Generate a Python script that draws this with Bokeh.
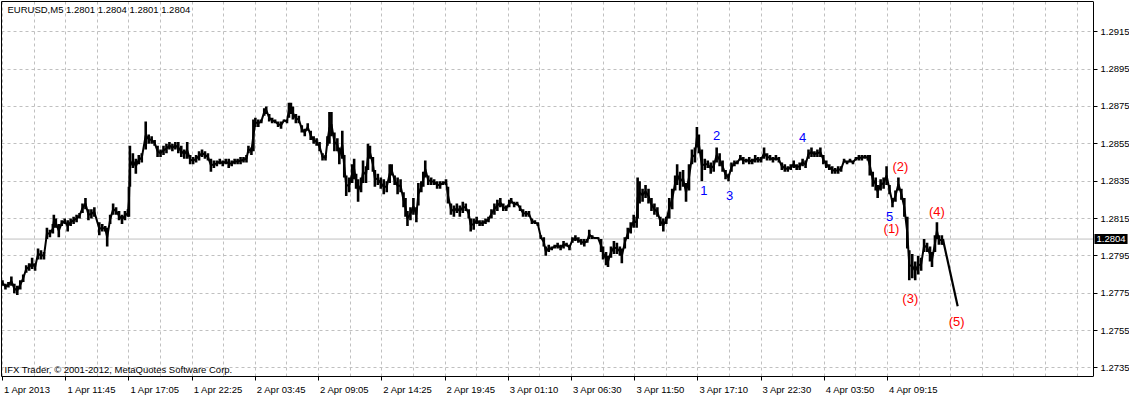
from bokeh.plotting import figure
from bokeh.models import FixedTicker, Range1d, Label, PrintfTickFormatter, LinearAxis, Grid
from bokeh.core.properties import value
from bokeh.embed import file_html
from bokeh.resources import INLINE

# ---------------- data ----------------
symbol = "EURUSD,M5"
last_bar = [1.2801, 1.2804, 1.2801, 1.2804]  # open, high, low, close
copyright_text = "IFX Trader, \u00a9 2001-2012, MetaQuotes Software Corp."

time_labels = ["1 Apr 2013", "1 Apr 11:45", "1 Apr 17:05", "1 Apr 22:25", "2 Apr 03:45",
               "2 Apr 09:05", "2 Apr 14:25", "2 Apr 19:45", "3 Apr 01:10", "3 Apr 06:30",
               "3 Apr 11:50", "3 Apr 17:10", "3 Apr 22:30", "4 Apr 03:50", "4 Apr 09:15"]
time_label_bars = [0, 64, 128, 192, 256, 320, 384, 448, 512, 576, 640, 704, 768, 832, 896]

price_ticks = [1.2735, 1.2755, 1.2775, 1.2795, 1.2815, 1.2835, 1.2855, 1.2875, 1.2895, 1.2915]

# sampled M5 bars: bar index, high, low
bar_idx = [0, 3, 6, 9, 12, 15, 18, 21, 24, 27, 30, 33, 36, 39, 42, 45, 48, 51, 52, 54,
           57, 60, 63, 66, 69, 72, 75, 78, 81, 84, 87, 90, 93, 98, 101, 104, 106, 109, 112, 115,
           118, 121, 124, 127, 128, 129, 132, 135, 138, 141, 145, 148, 151, 154, 157, 160, 163, 166, 169, 172,
           175, 178, 181, 184, 187, 190, 193, 196, 199, 202, 205, 208, 211, 214, 217, 220, 223, 226, 229, 232,
           235, 238, 241, 244, 247, 249, 252, 254, 256, 259, 262, 265, 267, 270, 273, 276, 279, 282, 285, 288,
           290, 292, 294, 297, 300, 303, 306, 309, 312, 315, 318, 321, 324, 327, 329, 331, 333, 336, 339, 341,
           344, 346, 348, 351, 354, 356, 358, 360, 363, 365, 368, 370, 372, 375, 377, 380, 383, 386, 389, 392,
           394, 397, 400, 403, 406, 408, 410, 413, 416, 419, 421, 424, 426, 428, 431, 434, 437, 440, 443, 446,
           449, 451, 454, 457, 460, 463, 466, 469, 472, 474, 477, 480, 483, 486, 489, 492, 495, 498, 501, 504,
           507, 510, 513, 515, 518, 521, 524, 527, 530, 533, 536, 539, 542, 545, 548, 550, 553, 556, 559, 562,
           565, 568, 571, 574, 577, 580, 583, 586, 589, 592, 594, 597, 600, 603, 606, 608, 611, 613, 616, 619,
           622, 625, 627, 630, 633, 636, 639, 642, 643, 645, 648, 651, 654, 657, 660, 663, 666, 669, 672, 675,
           678, 681, 683, 686, 689, 692, 695, 698, 701, 703, 705, 708, 711, 714, 717, 720, 723, 726, 729, 732,
           735, 738, 741, 744, 747, 750, 753, 756, 759, 762, 765, 768, 771, 774, 777, 780, 783, 786, 789, 792,
           795, 798, 801, 804, 807, 810, 813, 816, 819, 822, 825, 828, 831, 834, 837, 840, 843, 846, 849, 852,
           855, 858, 861, 864, 867, 870, 873, 876, 878, 881, 884, 886, 889, 892, 895, 898, 901, 904, 907, 910,
           913, 916, 918, 921, 924, 927, 930, 933, 936, 939, 941, 944, 946, 948, 951, 952]
bar_high = [1.2782, 1.2780, 1.2781, 1.2784, 1.2780, 1.2779, 1.2782, 1.2785, 1.2790, 1.2791, 1.2794, 1.2791, 1.2799, 1.2798, 1.2797, 1.2810, 1.2809, 1.2812, 1.2817, 1.2815,
            1.2812, 1.2814, 1.2815, 1.2814, 1.2815, 1.2816, 1.2817, 1.2818, 1.2823, 1.2826, 1.2820, 1.2820, 1.2821, 1.2813, 1.2812, 1.2811, 1.2810, 1.2817, 1.2823, 1.2821,
            1.2819, 1.2817, 1.2819, 1.2820, 1.2832, 1.2854, 1.2850, 1.2847, 1.2849, 1.2850, 1.2867, 1.2860, 1.2859, 1.2857, 1.2854, 1.2852, 1.2854, 1.2855, 1.2856, 1.2855,
            1.2856, 1.2856, 1.2854, 1.2852, 1.2856, 1.2849, 1.2848, 1.2849, 1.2851, 1.2852, 1.2851, 1.2850, 1.2847, 1.2846, 1.2846, 1.2847, 1.2846, 1.2847, 1.2847, 1.2846,
            1.2847, 1.2847, 1.2848, 1.2848, 1.2849, 1.2854, 1.2853, 1.2868, 1.2869, 1.2868, 1.2868, 1.2874, 1.2875, 1.2871, 1.2869, 1.2868, 1.2867, 1.2867, 1.2868, 1.2868,
            1.2877, 1.2877, 1.2875, 1.2871, 1.2870, 1.2865, 1.2863, 1.2866, 1.2862, 1.2859, 1.2858, 1.2856, 1.2850, 1.2849, 1.2859, 1.2872, 1.2872, 1.2861, 1.2858, 1.2853,
            1.2862, 1.2849, 1.2838, 1.2837, 1.2844, 1.2847, 1.2839, 1.2836, 1.2837, 1.2846, 1.2843, 1.2855, 1.2854, 1.2848, 1.2841, 1.2839, 1.2837, 1.2836, 1.2835, 1.2844,
            1.2844, 1.2838, 1.2837, 1.2836, 1.2829, 1.2826, 1.2819, 1.2821, 1.2826, 1.2821, 1.2834, 1.2835, 1.2840, 1.2846, 1.2838, 1.2837, 1.2836, 1.2835, 1.2835, 1.2835,
            1.2836, 1.2832, 1.2823, 1.2822, 1.2823, 1.2822, 1.2824, 1.2823, 1.2820, 1.2815, 1.2815, 1.2816, 1.2814, 1.2814, 1.2815, 1.2816, 1.2820, 1.2823, 1.2825, 1.2826,
            1.2823, 1.2822, 1.2825, 1.2826, 1.2824, 1.2824, 1.2822, 1.2820, 1.2819, 1.2819, 1.2815, 1.2814, 1.2813, 1.2806, 1.2805, 1.2800, 1.2801, 1.2800, 1.2801, 1.2802,
            1.2801, 1.2803, 1.2802, 1.2801, 1.2805, 1.2806, 1.2805, 1.2804, 1.2804, 1.2804, 1.2809, 1.2806, 1.2805, 1.2805, 1.2804, 1.2800, 1.2797, 1.2795, 1.2800, 1.2803,
            1.2802, 1.2800, 1.2799, 1.2805, 1.2810, 1.2813, 1.2817, 1.2816, 1.2837, 1.2835, 1.2831, 1.2833, 1.2831, 1.2826, 1.2823, 1.2821, 1.2816, 1.2815, 1.2816, 1.2826,
            1.2831, 1.2838, 1.2844, 1.2840, 1.2841, 1.2834, 1.2844, 1.2852, 1.2853, 1.2864, 1.2860, 1.2852, 1.2847, 1.2846, 1.2845, 1.2846, 1.2853, 1.2850, 1.2846, 1.2841,
            1.2839, 1.2845, 1.2846, 1.2846, 1.2849, 1.2848, 1.2847, 1.2848, 1.2847, 1.2849, 1.2848, 1.2848, 1.2853, 1.2850, 1.2849, 1.2848, 1.2849, 1.2848, 1.2845, 1.2844,
            1.2843, 1.2844, 1.2846, 1.2844, 1.2845, 1.2847, 1.2846, 1.2852, 1.2853, 1.2851, 1.2852, 1.2853, 1.2849, 1.2846, 1.2844, 1.2843, 1.2842, 1.2843, 1.2843, 1.2847,
            1.2846, 1.2847, 1.2846, 1.2848, 1.2849, 1.2849, 1.2849, 1.2849, 1.2849, 1.2840, 1.2837, 1.2833, 1.2836, 1.2837, 1.2843, 1.2833, 1.2826, 1.2830, 1.2837, 1.2831,
            1.2826, 1.2816, 1.2798, 1.2796, 1.2792, 1.2795, 1.2794, 1.2804, 1.2802, 1.2800, 1.2797, 1.2806, 1.2813, 1.2806, 1.2806, 1.2804]
bar_low = [1.2779, 1.2777, 1.2778, 1.2779, 1.2775, 1.2774, 1.2777, 1.2781, 1.2786, 1.2787, 1.2788, 1.2787, 1.2793, 1.2793, 1.2793, 1.2804, 1.2805, 1.2807, 1.2810, 1.2810,
           1.2805, 1.2811, 1.2812, 1.2808, 1.2811, 1.2812, 1.2813, 1.2815, 1.2818, 1.2820, 1.2814, 1.2815, 1.2816, 1.2806, 1.2808, 1.2808, 1.2800, 1.2812, 1.2817, 1.2817,
           1.2814, 1.2812, 1.2814, 1.2816, 1.2816, 1.2832, 1.2842, 1.2839, 1.2844, 1.2845, 1.2852, 1.2855, 1.2855, 1.2854, 1.2848, 1.2848, 1.2849, 1.2850, 1.2852, 1.2851,
           1.2852, 1.2850, 1.2848, 1.2847, 1.2847, 1.2844, 1.2844, 1.2845, 1.2846, 1.2848, 1.2847, 1.2846, 1.2840, 1.2842, 1.2843, 1.2844, 1.2843, 1.2844, 1.2842, 1.2843,
           1.2844, 1.2844, 1.2844, 1.2845, 1.2845, 1.2850, 1.2849, 1.2851, 1.2864, 1.2864, 1.2866, 1.2870, 1.2871, 1.2867, 1.2866, 1.2866, 1.2864, 1.2863, 1.2867, 1.2866,
           1.2869, 1.2871, 1.2868, 1.2866, 1.2866, 1.2861, 1.2859, 1.2862, 1.2857, 1.2855, 1.2854, 1.2851, 1.2846, 1.2846, 1.2854, 1.2855, 1.2859, 1.2851, 1.2851, 1.2844,
           1.2847, 1.2837, 1.2827, 1.2829, 1.2834, 1.2836, 1.2831, 1.2824, 1.2829, 1.2834, 1.2834, 1.2841, 1.2847, 1.2840, 1.2832, 1.2833, 1.2831, 1.2828, 1.2829, 1.2834,
           1.2838, 1.2833, 1.2828, 1.2829, 1.2821, 1.2816, 1.2811, 1.2814, 1.2817, 1.2813, 1.2822, 1.2829, 1.2832, 1.2837, 1.2833, 1.2833, 1.2833, 1.2831, 1.2831, 1.2833,
           1.2833, 1.2823, 1.2817, 1.2816, 1.2818, 1.2816, 1.2818, 1.2819, 1.2815, 1.2808, 1.2809, 1.2812, 1.2811, 1.2811, 1.2812, 1.2813, 1.2815, 1.2817, 1.2819, 1.2821,
           1.2819, 1.2819, 1.2821, 1.2823, 1.2821, 1.2822, 1.2819, 1.2816, 1.2816, 1.2816, 1.2812, 1.2812, 1.2811, 1.2804, 1.2800, 1.2795, 1.2797, 1.2798, 1.2799, 1.2799,
           1.2798, 1.2799, 1.2800, 1.2798, 1.2802, 1.2803, 1.2802, 1.2801, 1.2800, 1.2802, 1.2804, 1.2804, 1.2804, 1.2804, 1.2797, 1.2793, 1.2790, 1.2789, 1.2794, 1.2796,
           1.2796, 1.2795, 1.2791, 1.2799, 1.2804, 1.2807, 1.2810, 1.2810, 1.2815, 1.2823, 1.2824, 1.2826, 1.2823, 1.2819, 1.2817, 1.2816, 1.2811, 1.2808, 1.2812, 1.2815,
           1.2820, 1.2830, 1.2833, 1.2830, 1.2832, 1.2824, 1.2830, 1.2844, 1.2845, 1.2853, 1.2850, 1.2835, 1.2841, 1.2842, 1.2839, 1.2840, 1.2845, 1.2843, 1.2840, 1.2836,
           1.2835, 1.2840, 1.2843, 1.2844, 1.2846, 1.2844, 1.2845, 1.2844, 1.2844, 1.2845, 1.2845, 1.2845, 1.2847, 1.2846, 1.2846, 1.2845, 1.2846, 1.2845, 1.2841, 1.2840,
           1.2840, 1.2841, 1.2842, 1.2841, 1.2841, 1.2843, 1.2842, 1.2847, 1.2848, 1.2848, 1.2848, 1.2848, 1.2844, 1.2842, 1.2841, 1.2839, 1.2839, 1.2839, 1.2840, 1.2845,
           1.2844, 1.2845, 1.2844, 1.2846, 1.2846, 1.2846, 1.2847, 1.2846, 1.2838, 1.2832, 1.2830, 1.2826, 1.2830, 1.2831, 1.2833, 1.2828, 1.2821, 1.2824, 1.2830, 1.2825,
           1.2816, 1.2799, 1.2782, 1.2783, 1.2782, 1.2785, 1.2787, 1.2797, 1.2797, 1.2792, 1.2789, 1.2797, 1.2804, 1.2801, 1.2801, 1.2801]

# hand-drawn wave (5) projection
forecast_bar = [952, 967]
forecast_price = [1.2804, 1.2768]

# Elliott wave labels
minor_wave_text = ["1", "2", "3", "4", "5"]
minor_wave_bar = [710, 723, 736, 810, 898]
minor_wave_price = [1.28298, 1.28595, 1.28272, 1.28583, 1.28160]
major_wave_text = ["(1)", "(2)", "(3)", "(4)", "(5)"]
major_wave_bar = [900, 909, 919, 946, 966]
major_wave_price = [1.28094, 1.28430, 1.27723, 1.28187, 1.27601]

# ---------------- layout ----------------
FONT = "Liberation Sans"
FS_PX = 9.5
FS = f"{FS_PX}px"
GRID = "#c0c0c0"

W, H = 1129, 397
AXIS_PX = 36                      # width of price-scale strip at the right
x_lo, x_hi = -1.0, 1104.5         # chart area in bars
y_lo, y_hi = 1.27304, 1.29312
frame_w = W - 1
bars_per_px = (x_hi - x_lo) / (frame_w - AXIS_PX)
x_right = x_hi + AXIS_PX * bars_per_px

# approximate text widths (em) to left-align time labels at their ticks
_EM = {" ": 0.278, ":": 0.278, "A": 0.667, "p": 0.556, "r": 0.333}
def text_width_px(s):
    return sum(_EM.get(c, 0.556) for c in s) * FS_PX

label_centers = [b + (1.5 + text_width_px(t) / 2) * bars_per_px for b, t in zip(time_label_bars, time_labels)]

p = figure(width=W, height=H, output_backend="svg", toolbar_location=None,
           x_range=Range1d(x_lo, x_right), y_range=Range1d(y_lo, y_hi),
           y_axis_location=None,
           min_border_left=1, min_border_top=1, min_border_right=0, min_border_bottom=0)
p.background_fill_color = "white"
p.border_fill_color = "white"
p.outline_line_color = None

def style_axis(ax):
    ax.axis_line_color = "black"
    ax.major_tick_line_color = "black"
    ax.minor_tick_line_color = None
    ax.major_tick_in = 0
    ax.major_tick_out = 4
    ax.major_label_standoff = 2
    ax.major_label_text_font = FONT
    ax.major_label_text_font_size = FS
    ax.major_label_text_color = "black"

# bottom time scale: tick marks at the bar positions (minor ticks),
# labels placed so that they start at their tick (major ticks, hidden)
xa = p.xaxis[0]
style_axis(xa)
xa.ticker = FixedTicker(ticks=label_centers, minor_ticks=time_label_bars)
xa.bounds = (x_lo, x_hi)
xa.major_tick_line_color = None
xa.major_tick_out = 4
xa.minor_tick_line_color = "black"
xa.minor_tick_in = 0
xa.minor_tick_out = 4
xa.major_label_standoff = 3
xa.major_label_overrides = {c: t for c, t in zip(label_centers, time_labels)}

# right price scale, drawn at the chart border
ya = LinearAxis(ticker=FixedTicker(ticks=price_ticks), formatter=PrintfTickFormatter(format="%.4f"),
                fixed_location=x_hi)
style_axis(ya)
ya.major_label_standoff = 3
p.add_layout(ya, "right")

# top and left border
for side in ("above", "left"):
    b_ax = LinearAxis(ticker=FixedTicker(ticks=[]))
    style_axis(b_ax)
    b_ax.major_tick_out = 0
    b_ax.major_label_standoff = 0
    if side == "above":
        b_ax.bounds = (x_lo, x_hi)
    p.add_layout(b_ax, side)

# grid
p.xgrid.ticker = FixedTicker(ticks=list(range(0, 1105, 32)))
p.xgrid.grid_line_color = GRID
p.xgrid.grid_line_dash = "3 3"
p.ygrid.visible = False
yg = Grid(dimension=1, ticker=FixedTicker(ticks=price_ticks), cross_bounds=(x_lo, x_hi),
          grid_line_color=GRID, grid_line_dash="3 3")
p.add_layout(yg)

# current price line
p.segment(x0=[x_lo], y0=[last_bar[3]], x1=[x_hi], y1=[last_bar[3]], line_color=GRID, line_width=1)

# bars
mid = [(h + l) / 2 for h, l in zip(bar_high, bar_low)]
p.segment(x0=bar_idx, y0=bar_low, x1=bar_idx, y1=bar_high, line_color="black", line_width=2.6)
p.line(bar_idx, mid, line_color="black", line_width=2)

# projection line
p.line(forecast_bar, forecast_price, line_color="black", line_width=2.2)

# wave labels
p.text(x=minor_wave_bar, y=minor_wave_price, text=minor_wave_text, text_color="#0000ff",
       text_font=value(FONT), text_font_size="13px", text_align="center", text_baseline="middle")
p.text(x=major_wave_bar, y=major_wave_price, text=major_wave_text, text_color="#ff0000",
       text_font=value(FONT), text_font_size="13px", text_align="center", text_baseline="middle")

# header and footer
header = symbol + "  " + " ".join(f"{v:.4f}" for v in last_bar)
p.add_layout(Label(x=x_lo, y=1.29298, x_offset=6, text=header, text_font=FONT, text_font_size=FS,
                   text_color="black", text_baseline="top", text_align="left"))
p.add_layout(Label(x=x_lo, y=1.27312, x_offset=3, text=copyright_text, text_font=FONT,
                   text_font_size=FS, text_color="black", text_baseline="bottom", text_align="left"))

# price tag on the scale
p.add_layout(Label(x=x_hi, y=last_bar[3], x_offset=1, text=f"{last_bar[3]:.4f}", text_font=FONT,
                   text_font_size=FS, text_color="white", background_fill_color="black",
                   text_baseline="middle", text_align="left", padding=2))

open("out.html", "w").write(file_html(p, INLINE))
